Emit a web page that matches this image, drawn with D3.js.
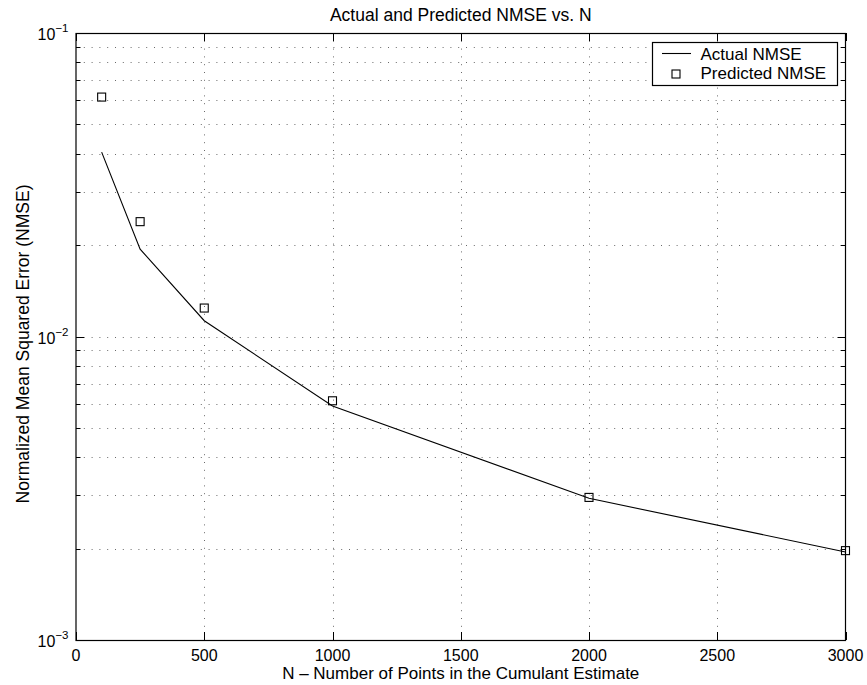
<!DOCTYPE html>
<html>
<head>
<meta charset="utf-8">
<script src="https://cdn.jsdelivr.net/npm/d3@7"></script>
<style>
  html, body { margin: 0; padding: 0; background: #fff; }
  svg { display: block; font-family: "Liberation Sans", Arial, Helvetica, sans-serif; }
</style>
</head>
<body>
<svg id="chart" width="867" height="685"></svg>
<script>
// Sample sizes N used for the cumulant estimate
const sampleSizes = [100, 250, 500, 1000, 2000, 3000];
// Measured normalized mean squared error
const actualNMSE = [0.0405, 0.0194, 0.01127, 0.0059, 0.00293, 0.00195];
// Theoretical (predicted) NMSE
const predictedNMSE = [0.0615, 0.0239, 0.01241, 0.00614, 0.00295, 0.00197];

const xTicks = [0, 500, 1000, 1500, 2000, 2500, 3000];
const yDecades = [-3, -2, -1];
const seriesNames = ["Actual NMSE", "Predicted NMSE"];

const svg = d3.select("#chart");
const plotLeft = 76, plotRight = 845.5, plotTop = 33, plotBottom = 640;

const x = d3.scaleLinear().domain([0, 3000]).range([plotLeft, plotRight]);
const y = d3.scaleLog().domain([1e-3, 1e-1]).range([plotBottom, plotTop]);

// minor log values 2..9 in each decade
const minorVals = [];
[1e-3, 1e-2].forEach(d => { for (let k = 2; k <= 9; k++) minorVals.push(d * k); });
const majorVals = yDecades.map(e => Math.pow(10, e));

const gridColor = "#6a6a6a";
const dash = "1,6.8";
const grid = svg.append("g");

// horizontal dotted grid at every major and minor level
grid.selectAll("line.h").data(minorVals.concat(majorVals.slice(1, 2))).enter().append("line")
  .attr("x1", plotLeft).attr("x2", plotRight)
  .attr("y1", d => Math.round(y(d)) + 0.5).attr("y2", d => Math.round(y(d)) + 0.5)
  .attr("stroke", gridColor).attr("stroke-width", 1).attr("stroke-dasharray", dash);

// vertical dotted grid
grid.selectAll("line.v").data(xTicks.slice(1, -1)).enter().append("line")
  .attr("y1", plotTop).attr("y2", plotBottom)
  .attr("x1", d => Math.round(x(d)) + 0.5).attr("x2", d => Math.round(x(d)) + 0.5)
  .attr("stroke", gridColor).attr("stroke-width", 1).attr("stroke-dasharray", dash);

// axes frame
const frame = svg.append("g").attr("stroke", "#000").attr("fill", "none");
frame.append("rect")
  .attr("x", plotLeft).attr("y", plotTop + 0.5)
  .attr("width", plotRight - plotLeft).attr("height", plotBottom - plotTop)
  .attr("stroke-width", 1.2);

// x ticks, bottom and top, pointing inward
const majLen = 8, minLen = 4.5;
xTicks.forEach(t => {
  const px = Math.round(x(t)) + 0.5;
  frame.append("line").attr("x1", px).attr("x2", px).attr("y1", plotBottom).attr("y2", plotBottom - majLen);
  frame.append("line").attr("x1", px).attr("x2", px).attr("y1", plotTop).attr("y2", plotTop + majLen);
});
// y ticks, left and right
majorVals.forEach(v => {
  const py = Math.round(y(v)) + 0.5;
  frame.append("line").attr("x1", plotLeft).attr("x2", plotLeft + majLen).attr("y1", py).attr("y2", py);
  frame.append("line").attr("x1", plotRight).attr("x2", plotRight - majLen).attr("y1", py).attr("y2", py);
});
minorVals.forEach(v => {
  const py = Math.round(y(v)) + 0.5;
  frame.append("line").attr("x1", plotLeft).attr("x2", plotLeft + minLen).attr("y1", py).attr("y2", py);
  frame.append("line").attr("x1", plotRight).attr("x2", plotRight - minLen).attr("y1", py).attr("y2", py);
});

// x tick labels
svg.append("g").selectAll("text").data(xTicks).enter().append("text")
  .attr("x", d => x(d)).attr("y", 661)
  .attr("text-anchor", "middle").attr("font-size", 16).attr("fill", "#000")
  .text(d => d);

// y tick labels as 10^e
const yl = svg.append("g");
yDecades.forEach(e => {
  const py = y(Math.pow(10, e));
  const t = yl.append("text").attr("x", 68.5).attr("y", py + 7)
    .attr("text-anchor", "end").attr("font-size", 16).attr("fill", "#000");
  t.append("tspan").text("10");
  t.append("tspan").attr("dy", -8).attr("font-size", 11.5).text("\u2212" + Math.abs(e));
});

// actual NMSE line
const line = d3.line().x((d, i) => x(sampleSizes[i])).y(d => y(d));
svg.append("path").datum(actualNMSE)
  .attr("d", line).attr("fill", "none").attr("stroke", "#000").attr("stroke-width", 1.1);

// predicted NMSE squares
const sq = 8;
svg.append("g").selectAll("rect").data(predictedNMSE).enter().append("rect")
  .attr("x", (d, i) => x(sampleSizes[i]) - sq / 2)
  .attr("y", d => y(d) - sq / 2)
  .attr("width", sq).attr("height", sq)
  .attr("fill", "none").attr("stroke", "#000").attr("stroke-width", 1.1);

// title and axis labels
svg.append("text").attr("x", (plotLeft + plotRight) / 2).attr("y", 20.5)
  .attr("text-anchor", "middle").attr("font-size", 17.5).attr("fill", "#000")
  .text("Actual and Predicted NMSE vs. N");
svg.append("text").attr("x", (plotLeft + plotRight) / 2).attr("y", 679)
  .attr("text-anchor", "middle").attr("font-size", 17).attr("fill", "#000")
  .text("N \u2013 Number of Points in the Cumulant Estimate");
svg.append("text").attr("transform", "translate(28.5,344) rotate(-90)")
  .attr("text-anchor", "middle").attr("font-size", 17.5).attr("fill", "#000")
  .text("Normalized Mean Squared Error (NMSE)");

// legend
const lg = svg.append("g");
lg.append("rect").attr("x", 652.5).attr("y", 42.5).attr("width", 185).attr("height", 43)
  .attr("fill", "#fff").attr("stroke", "#000").attr("stroke-width", 1.2);
lg.append("line").attr("x1", 662).attr("x2", 691).attr("y1", 53.5).attr("y2", 53.5)
  .attr("stroke", "#000").attr("stroke-width", 1.1);
lg.append("rect").attr("x", 672).attr("y", 70).attr("width", sq).attr("height", sq)
  .attr("fill", "none").attr("stroke", "#000").attr("stroke-width", 1.1);
lg.selectAll("text").data(seriesNames).enter().append("text")
  .attr("x", 700.5).attr("y", (d, i) => 60 + i * 19)
  .attr("font-size", 17).attr("fill", "#000").text(d => d);
</script>
</body>
</html>
